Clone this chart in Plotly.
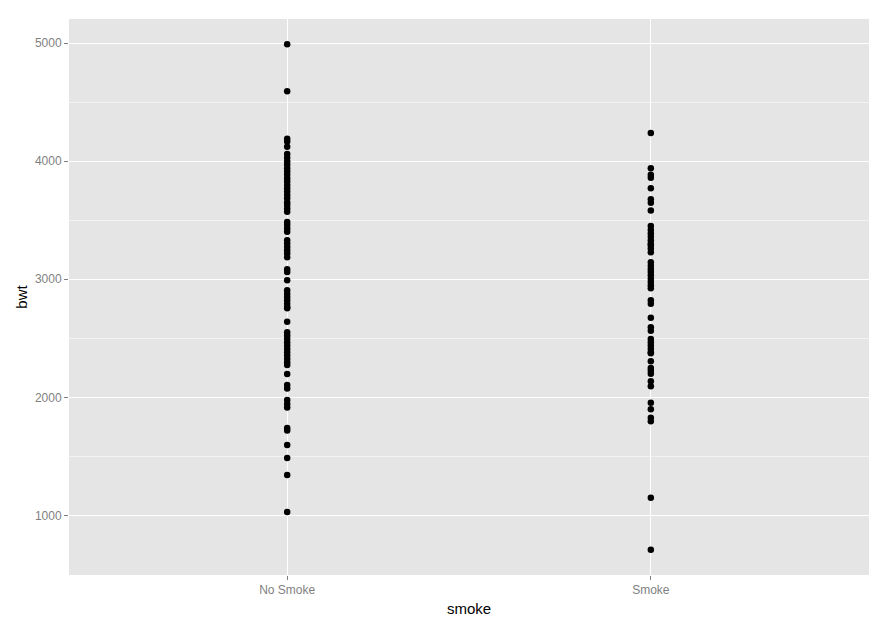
import plotly.graph_objects as go

categories = ["No Smoke", "Smoke"]

bwt_no_smoke = [4990, 4593, 4190, 4167, 4123, 4061, 4028, 3997, 3969, 3941, 3912,
                3884, 3856, 3827, 3799, 3770, 3742, 3714, 3686, 3651, 3629, 3600,
                3572, 3484, 3459, 3430, 3402, 3330, 3303, 3274, 3246, 3218, 3186,
                3085, 3062, 2991, 2907, 2877, 2850, 2821, 2793, 2765, 2755, 2640,
                2552, 2523, 2495, 2466, 2438, 2410, 2381, 2353, 2325, 2296, 2273,
                2197, 2104, 2074, 1977, 1943, 1913, 1740, 1719, 1595, 1485, 1341,
                1028]

bwt_smoke = [4238, 3941, 3884, 3860, 3770, 3678, 3647, 3583, 3450, 3416, 3387,
             3359, 3331, 3303, 3287, 3260, 3228, 3143, 3115, 3087, 3062, 3033,
             3005, 2977, 2948, 2923, 2822, 2793, 2674, 2594, 2564, 2493, 2466,
             2438, 2410, 2381, 2374, 2305, 2249, 2225, 2200, 2136, 2094, 1953,
             1899, 1826, 1797, 1150, 709]

y_ticks = [1000, 2000, 3000, 4000, 5000]

x_vals = [categories[0]] * len(bwt_no_smoke) + [categories[1]] * len(bwt_smoke)
y_vals = bwt_no_smoke + bwt_smoke

ymin = min(y_vals)
ymax = max(y_vals)
pad = (ymax - ymin) * 0.05

fig = go.Figure()
fig.add_trace(go.Scatter(
    x=x_vals, y=y_vals, mode="markers",
    marker=dict(color="black", size=6.5, symbol="circle", line=dict(width=0)),
    showlegend=False,
))

font_family = "Arial, Liberation Sans, sans-serif"

fig.update_layout(
    width=881, height=621,
    margin=dict(l=61, r=20, t=11, b=54),
    paper_bgcolor="white",
    plot_bgcolor="#E5E5E5",
    font=dict(family=font_family, color="black"),
    xaxis=dict(
        type="category",
        categoryorder="array", categoryarray=categories,
        range=[-0.6, 1.6],
        showgrid=True, gridcolor="white", gridwidth=1,
        zeroline=False, showline=False,
        ticks="outside", ticklen=4, tickcolor="#7F7F7F", tickwidth=1,
        tickfont=dict(size=12, color="#7F7F7F", family=font_family),
        title=dict(text="smoke", font=dict(size=15, color="black", family=font_family), standoff=7),
    ),
    yaxis=dict(
        range=[ymin - pad, ymax + pad],
        tickmode="array", tickvals=y_ticks, ticktext=[str(v) for v in y_ticks],
        showgrid=True, gridcolor="white", gridwidth=1,
        minor=dict(tickmode="array", tickvals=[500, 1500, 2500, 3500, 4500],
                   showgrid=True, gridcolor="#F2F2F2", gridwidth=0.5, ticks=""),
        zeroline=False, showline=False,
        ticks="outside", ticklen=4, tickcolor="#7F7F7F", tickwidth=1,
        tickfont=dict(size=12, color="#7F7F7F", family=font_family),
        title=dict(text="bwt", font=dict(size=15, color="black", family=font_family), standoff=3),
    ),
)

fig.write_html("out.html")
